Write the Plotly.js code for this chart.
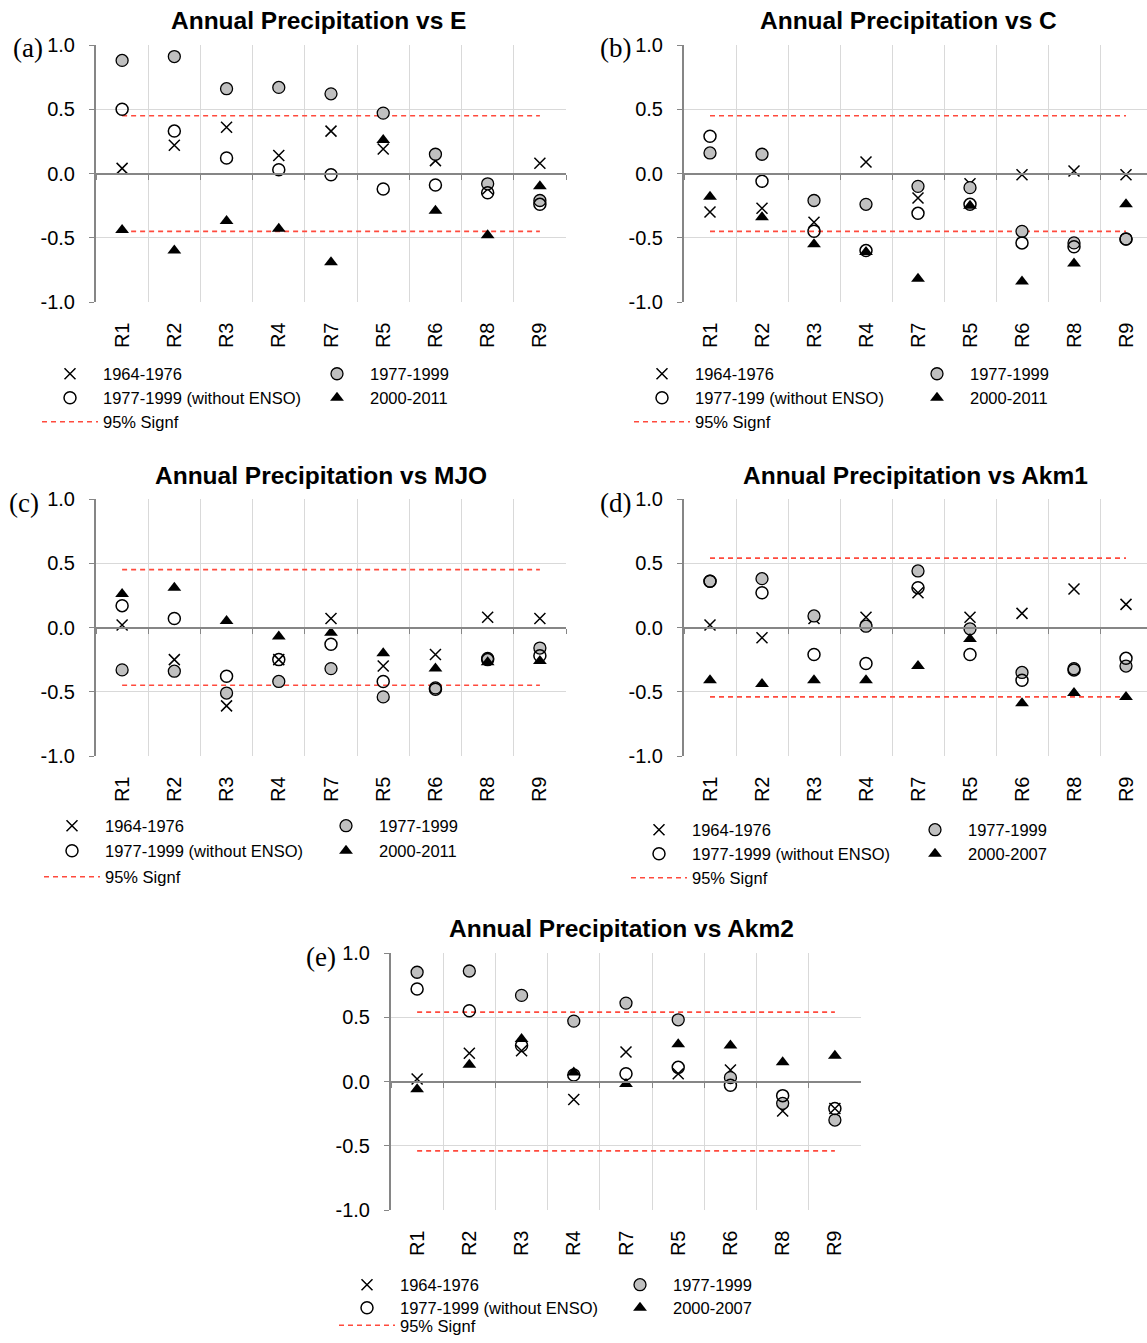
<!DOCTYPE html>
<html><head><meta charset="utf-8">
<script src="https://cdn.plot.ly/plotly-3.0.1.min.js"></script>
<style>html,body{margin:0;padding:0;background:#fff;width:1147px;height:1343px;overflow:hidden}#chart{width:1147px;height:1343px;overflow:hidden}</style>
</head><body><div id="chart"></div>
<script>
// ---------- DATA ----------
const regions = ['R1','R2','R3','R4','R7','R5','R6','R8','R9'];
const yTickVals = [-1, -0.5, 0, 0.5, 1];
const yTickText = ['-1.0','-0.5','0.0','0.5','1.0'];

// (a) Annual Precipitation vs E
const e_1964_1976 = [0.04, 0.22, 0.36, 0.14, 0.33, 0.19, 0.10, -0.12, 0.08];
const e_1977_1999 = [0.88, 0.91, 0.66, 0.67, 0.62, 0.47, 0.15, -0.08, -0.21];
const e_noENSO    = [0.50, 0.33, 0.12, 0.03, -0.01, -0.12, -0.09, -0.15, -0.24];
const e_2000      = [-0.44, -0.60, -0.37, -0.43, -0.69, 0.26, -0.29, -0.48, -0.10];

// (b) Annual Precipitation vs C
const c_1964_1976 = [-0.30, -0.27, -0.38, 0.09, -0.19, -0.08, -0.01, 0.02, -0.01];
const c_1977_1999 = [0.16, 0.15, -0.21, -0.24, -0.10, -0.11, -0.45, -0.54, -0.51];
const c_noENSO    = [0.29, -0.06, -0.45, -0.60, -0.31, -0.24, -0.54, -0.57, -0.51];
const c_2000      = [-0.18, -0.34, -0.55, -0.61, -0.82, -0.25, -0.84, -0.70, -0.24];

// (c) Annual Precipitation vs MJO
const m_1964_1976 = [0.02, -0.25, -0.61, -0.25, 0.07, -0.30, -0.21, 0.08, 0.07];
const m_1977_1999 = [-0.33, -0.34, -0.51, -0.42, -0.32, -0.54, -0.47, -0.24, -0.16];
const m_noENSO    = [0.17, 0.07, -0.38, -0.25, -0.13, -0.42, -0.48, -0.25, -0.22];
const m_2000      = [0.26, 0.31, 0.05, -0.07, -0.04, -0.20, -0.32, -0.27, -0.26];

// (d) Annual Precipitation vs Akm1
const a1_1964_1976 = [0.02, -0.08, 0.07, 0.08, 0.27, 0.08, 0.11, 0.30, 0.18];
const a1_1977_1999 = [0.36, 0.38, 0.09, 0.01, 0.44, -0.01, -0.35, -0.32, -0.30];
const a1_noENSO    = [0.36, 0.27, -0.21, -0.28, 0.31, -0.21, -0.41, -0.33, -0.24];
const a1_2000      = [-0.41, -0.44, -0.41, -0.41, -0.30, -0.09, -0.59, -0.51, -0.54];

// (e) Annual Precipitation vs Akm2
const a2_1964_1976 = [0.02, 0.22, 0.24, -0.14, 0.23, 0.06, 0.09, -0.23, -0.21];
const a2_1977_1999 = [0.85, 0.86, 0.67, 0.47, 0.61, 0.48, 0.03, -0.17, -0.30];
const a2_noENSO    = [0.72, 0.55, 0.28, 0.05, 0.06, 0.11, -0.03, -0.11, -0.21];
const a2_2000      = [-0.06, 0.13, 0.33, 0.07, -0.02, 0.29, 0.28, 0.15, 0.20];

// 95% significance levels
const sigLevels = [0.45, 0.45, 0.45, 0.54, 0.54];

const panelTitles = ['Annual Precipitation vs E','Annual Precipitation vs C','Annual Precipitation vs MJO','Annual Precipitation vs Akm1','Annual Precipitation vs Akm2'];
const panelLetters = ['(a)','(b)','(c)','(d)','(e)'];
const labelsA = ['1964-1976','1977-1999','1977-1999 (without ENSO)','2000-2011','95% Signf'];
const labelsB = ['1964-1976','1977-1999','1977-199 (without ENSO)','2000-2011','95% Signf'];
const labelsC = ['1964-1976','1977-1999','1977-1999 (without ENSO)','2000-2011','95% Signf'];
const labelsD = ['1964-1976','1977-1999','1977-1999 (without ENSO)','2000-2007','95% Signf'];
const labelsE = ['1964-1976','1977-1999','1977-1999 (without ENSO)','2000-2007','95% Signf'];

const panelData = [
  [e_1964_1976, e_1977_1999, e_noENSO, e_2000],
  [c_1964_1976, c_1977_1999, c_noENSO, c_2000],
  [m_1964_1976, m_1977_1999, m_noENSO, m_2000],
  [a1_1964_1976, a1_1977_1999, a1_noENSO, a1_2000],
  [a2_1964_1976, a2_1977_1999, a2_noENSO, a2_2000]
];
const panelLabels = [labelsA, labelsB, labelsC, labelsD, labelsE];

// ---------- LAYOUT GEOMETRY (pixels) ----------
const W = 1147, H = 1343;
const CAT_PX = 52; // pixel width of one category band
const geom = [
  {x0:96,  x1:566,  y0:45,  y1:302,  tx:318, ty:20,  lx:28,  ly:48,  c1:70,  c2:337, rows:[374,398,422]},
  {x0:684, x1:1147, y0:45,  y1:302,  tx:908, ty:20,  lx:615, ly:48,  c1:662, c2:937, rows:[374,398,422]},
  {x0:96,  x1:566,  y0:499, y1:756,  tx:321, ty:475, lx:24,  ly:503, c1:72,  c2:346, rows:[826,851,877]},
  {x0:684, x1:1147, y0:499, y1:756,  tx:915, ty:475, lx:615, ly:503, c1:659, c2:935, rows:[830,854,878]},
  {x0:391, x1:861,  y0:953, y1:1210, tx:621, ty:928, lx:321, ly:957, c1:367, c2:640, rows:[1285,1308,1332]}
];

const FONT = 'Liberation Sans, Arial, sans-serif';
const AXIS_GRAY = '#868686';
const GRID = '#d9d9d9';
const RED = '#ff4a3d';

const traces = [];
const layout = {
  width: W, height: H,
  margin: {l:0, r:0, t:0, b:0},
  paper_bgcolor: '#ffffff', plot_bgcolor: '#ffffff',
  showlegend: true,
  annotations: []
};

function legId(n){ return n === 1 ? 'legend' : 'legend' + n; }

geom.forEach((g, i) => {
  const n = i + 1;
  const xa = n === 1 ? 'x' : 'x' + n;
  const ya = n === 1 ? 'y' : 'y' + n;
  const xk = n === 1 ? 'xaxis' : 'xaxis' + n;
  const yk = n === 1 ? 'yaxis' : 'yaxis' + n;
  const L = [0,1,2,3,4].map(k => legId(5*i + k + 1));
  const [s1, s2, s3, s4] = panelData[i];
  const lab = panelLabels[i];
  const sig = sigLevels[i];

  traces.push({type:'scatter', mode:'lines', xaxis:xa, yaxis:ya, x:regions, y:regions.map(()=>sig),
    name:lab[4], legend:L[4], hoverinfo:'skip',
    line:{color:RED, width:1.6, dash:'5px,4px'}});
  traces.push({type:'scatter', mode:'lines', xaxis:xa, yaxis:ya, x:regions, y:regions.map(()=>-sig),
    name:lab[4], legend:L[4], showlegend:false, hoverinfo:'skip',
    line:{color:RED, width:1.6, dash:'5px,4px'}});

  traces.push({type:'scatter', mode:'markers', xaxis:xa, yaxis:ya, x:regions, y:s1, name:lab[0],
    legend:L[0],
    marker:{symbol:'x-thin-open', size:11, color:'#000', line:{color:'#000', width:1.5}}});
  traces.push({type:'scatter', mode:'markers', xaxis:xa, yaxis:ya, x:regions, y:s2, name:lab[1],
    legend:L[1],
    marker:{symbol:'circle', size:12, color:'#c0c0c0', line:{color:'#000', width:1.3}}});
  traces.push({type:'scatter', mode:'markers', xaxis:xa, yaxis:ya, x:regions, y:s3, name:lab[2],
    legend:L[2],
    marker:{symbol:'circle-open', size:12, color:'#000', line:{color:'#000', width:1.5}}});
  traces.push({type:'scatter', mode:'markers', xaxis:xa, yaxis:ya, x:regions, y:s4, name:lab[3],
    legend:L[3],
    marker:{symbol:'triangle-up', size:12, color:'#000', line:{color:'#000', width:0}}});

  const midY = 1 - ((g.y0 + g.y1) / 2) / H;
  const xr = -0.5 + (g.x1 - g.x0) / CAT_PX;
  layout[xk] = {
    type:'category', categoryorder:'array', categoryarray:regions,
    domain:[g.x0 / W, Math.min(1, g.x1 / W)],
    range:[-0.5, Math.min(8.5, xr)],
    anchor:'free', position: midY,
    showline:true, linecolor:AXIS_GRAY, linewidth:2,
    ticks:'outside', ticklen:5, tickwidth:1, tickcolor:AXIS_GRAY,
    tickson:'boundaries',
    showgrid:true, gridcolor:GRID, gridwidth:1,
    tickangle:-90, ticklabelstandoff:140,
    tickfont:{family:FONT, size:20, color:'#000'},
    zeroline:false, fixedrange:true
  };
  layout[yk] = {
    domain:[1 - g.y1 / H, 1 - g.y0 / H],
    anchor: xa, range:[-1, 1],
    tickmode:'array', tickvals:yTickVals, ticktext:yTickText,
    showline:true, linecolor:AXIS_GRAY, linewidth:2,
    ticks:'outside', ticklen:5, tickwidth:1, tickcolor:AXIS_GRAY,
    ticklabelstandoff:10,
    showgrid:true, gridcolor:GRID, gridwidth:1, zeroline:false,
    tickfont:{family:FONT, size:20, color:'#000'}, fixedrange:true
  };

  const legBase = {bgcolor:'rgba(0,0,0,0)', borderwidth:0, orientation:'v',
    font:{family:FONT, size:16.5, color:'#000'}, itemwidth:56, tracegroupgap:0,
    xanchor:'left', yanchor:'middle'};
  // entry slots: [column x, row y]
  const slots = [[g.c1, g.rows[0]], [g.c2, g.rows[0]], [g.c1, g.rows[1]], [g.c2, g.rows[1]], [g.c1, g.rows[2]]];
  slots.forEach((s, k) => {
    const cfg = Object.assign({}, legBase, {x:(s[0] - 33) / W, y:1 - s[1] / H});
    if (s[1] + 16 > H) { cfg.yanchor = 'bottom'; cfg.y = 0; }
    layout[L[k]] = cfg;
  });

  layout.annotations.push({text:'<b>' + panelTitles[i] + '</b>', xref:'paper', yref:'paper',
    x:g.tx / W, y:1 - g.ty / H, xanchor:'center', yanchor:'middle', showarrow:false,
    font:{family:FONT, size:24.5, color:'#000'}});
  layout.annotations.push({text:panelLetters[i], xref:'paper', yref:'paper',
    x:g.lx / W, y:1 - g.ly / H, xanchor:'center', yanchor:'middle', showarrow:false,
    font:{family:'Liberation Serif, Times New Roman, serif', size:27, color:'#000'}});
});

Plotly.newPlot('chart', traces, layout, {staticPlot:true, displayModeBar:false});
</script>
</body></html>
